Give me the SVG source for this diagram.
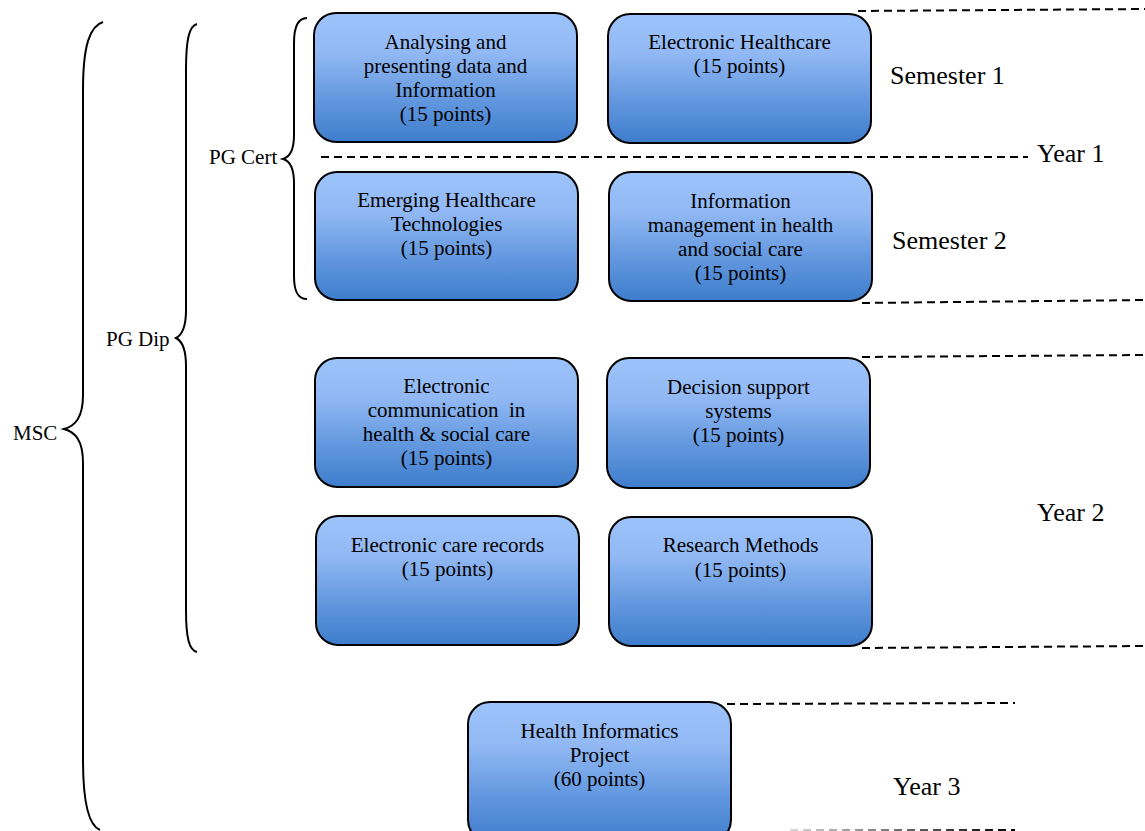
<svg xmlns="http://www.w3.org/2000/svg" width="1145" height="831" viewBox="0 0 1145 831">
<defs>
<linearGradient id="boxg" x1="0" y1="0" x2="0" y2="1">
<stop offset="0" stop-color="#9DC3FB"/>
<stop offset="0.3" stop-color="#92B9F4"/>
<stop offset="0.7" stop-color="#5F95DD"/>
<stop offset="1" stop-color="#3E7DCC"/>
</linearGradient>
<linearGradient id="fadeg" gradientUnits="userSpaceOnUse" x1="790" y1="0" x2="1015" y2="0">
<stop offset="0" stop-color="#d8d8d8"/>
<stop offset="0.6" stop-color="#555"/>
<stop offset="1" stop-color="#000"/>
</linearGradient>
</defs>
<style>
.box{fill:url(#boxg);stroke:#000;stroke-width:2}
.bt{font-family:"Liberation Serif","Times New Roman",serif;font-size:21px;fill:#000;text-anchor:middle}
.lbl{font-family:"Liberation Serif","Times New Roman",serif;font-size:21px;fill:#000}
.big{font-family:"Liberation Serif","Times New Roman",serif;font-size:26px;fill:#000}
.dash{stroke:#000;stroke-width:2;stroke-dasharray:8 5;fill:none}
.brace{fill:none;stroke:#000;stroke-width:2}
</style>
<rect width="1145" height="831" fill="#fff"/>
<g id="connectors">
<line class="dash" x1="858" y1="11" x2="1145" y2="9"/>
<line class="dash" x1="321" y1="157" x2="1028" y2="157"/>
<line class="dash" x1="862" y1="303" x2="1145" y2="300"/>
<line class="dash" x1="862" y1="357" x2="1145" y2="355"/>
<line class="dash" x1="862" y1="648" x2="1145" y2="646"/>
<line class="dash" x1="727" y1="704" x2="1015" y2="703"/>
<line class="dash" x1="790" y1="830" x2="1015" y2="830" style="stroke:url(#fadeg)"/>
</g>
<g id="brace-pgcert">
<path class="brace" d="M307,18 C298,18 294,26 294,43 L294,135 C294,150 290,157 283,159 C290,161 294,168 294,183 L294,276 C294,292 298,299 307,299"/>
<text class="lbl" x="209" y="164">PG Cert</text>
</g>
<g id="brace-pgdip">
<path class="brace" d="M197,24 C189,26 186,40 186,70 L186,310 C186,328 182,335 176,338 C182,341 186,348 186,366 L186,610 C186,638 189,650 197,652"/>
<text class="lbl" x="106" y="346">PG Dip</text>
</g>
<g id="brace-msc">
<path class="brace" d="M103,22 C90,26 83,45 83,90 L83,395 C83,418 75,426 64,429 C75,432 83,440 83,463 L83,760 C83,805 90,826 100,830"/>
<text class="lbl" x="13" y="440">MSC</text>
</g>
<g id="n1">
<rect class="box" x="314" y="13" width="263" height="129" rx="22"/>
<text class="bt" x="445.5" y="48.5">Analysing and</text>
<text class="bt" x="445.5" y="72.5">presenting data and</text>
<text class="bt" x="445.5" y="96.5">Information</text>
<text class="bt" x="445.5" y="120.5">(15 points)</text>
</g>
<g id="n2">
<rect class="box" x="608" y="14" width="263" height="129" rx="22"/>
<text class="bt" x="739.5" y="49">Electronic Healthcare</text>
<text class="bt" x="739.5" y="73">(15 points)</text>
</g>
<g id="n3">
<rect class="box" x="315" y="172" width="263" height="128" rx="22"/>
<text class="bt" x="446.5" y="207">Emerging Healthcare</text>
<text class="bt" x="446.5" y="231">Technologies</text>
<text class="bt" x="446.5" y="255">(15 points)</text>
</g>
<g id="n4">
<rect class="box" x="609" y="172" width="263" height="129" rx="22"/>
<text class="bt" x="740.5" y="208">Information</text>
<text class="bt" x="740.5" y="232">management in health</text>
<text class="bt" x="740.5" y="256">and social care</text>
<text class="bt" x="740.5" y="280">(15 points)</text>
</g>
<g id="n5">
<rect class="box" x="315" y="358" width="263" height="129" rx="22"/>
<text class="bt" x="446.5" y="393">Electronic</text>
<text class="bt" x="446.5" y="417" xml:space="preserve">communication  in</text>
<text class="bt" x="446.5" y="441">health &amp; social care</text>
<text class="bt" x="446.5" y="465">(15 points)</text>
</g>
<g id="n6">
<rect class="box" x="607" y="358" width="263" height="130" rx="22"/>
<text class="bt" x="738.5" y="394">Decision support</text>
<text class="bt" x="738.5" y="418">systems</text>
<text class="bt" x="738.5" y="442">(15 points)</text>
</g>
<g id="n7">
<rect class="box" x="316" y="516" width="263" height="129" rx="22"/>
<text class="bt" x="447.5" y="552">Electronic care records</text>
<text class="bt" x="447.5" y="576">(15 points)</text>
</g>
<g id="n8">
<rect class="box" x="609" y="517" width="263" height="129" rx="22"/>
<text class="bt" x="740.5" y="552">Research Methods</text>
<text class="bt" x="740.5" y="577">(15 points)</text>
</g>
<g id="n9">
<rect class="box" x="468" y="702" width="263" height="140" rx="22"/>
<text class="bt" x="599.5" y="738">Health Informatics</text>
<text class="bt" x="599.5" y="762">Project</text>
<text class="bt" x="599.5" y="786">(60 points)</text>
</g>
<g id="labels">
<text class="big" x="890" y="84">Semester 1</text>
<text class="big" x="892" y="249">Semester 2</text>
<text class="big" x="1037" y="162">Year 1</text>
<text class="big" x="1037" y="521">Year 2</text>
<text class="big" x="893" y="795">Year 3</text>
</g>
</svg>
